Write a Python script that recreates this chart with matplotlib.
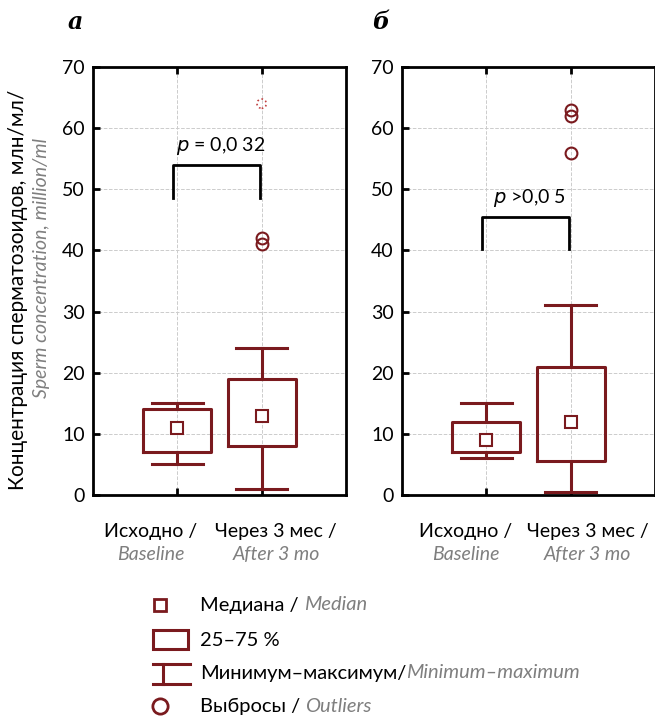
import numpy as np
import matplotlib
import matplotlib.pyplot as plt
from matplotlib.patches import Rectangle

matplotlib.rcParams.update({'font.size': 13, 'font.family': ['Lato', 'DejaVu Sans']})

RED = '#7a1a1e'
GRAY = '#7f7f7f'

# data: [panel a, panel b], each [Baseline, After 3 mo]
panels = ['а', 'б']
groups_ru = ['Исходно /', 'Через 3 мес /']
groups_en = ['Baseline', 'After 3 mo']
medians = [[11, 13], [9, 12]]
q1 = [[7, 8], [7, 5.5]]
q3 = [[14, 19], [12, 21]]
mins = [[5, 1], [6, 0.5]]
maxs = [[15, 24], [15, 31]]
outliers = [[[], [42, 41]], [[], [63, 62, 56]]]
extreme = [[[], [64]], [[], []]]
p_text = ['$p$ = 0,0 32', '$p$ >0,0 5']
bracket_top = [54, 45.5]
bracket_bottom = [48.5, 40.3]

fig = plt.figure(figsize=(6.55, 7.19), dpi=100)
lefts = [93 / 655, 402 / 655]
panel_x = [75 / 655, 381 / 655]
label_x = [[0.68, 2.17], [0.76, 2.2]]

for k in range(2):
    ax = fig.add_axes([lefts[k], 1 - 495 / 719, 253 / 655, 428 / 719])
    stats = []
    for i in range(2):
        stats.append({'med': medians[k][i], 'q1': q1[k][i], 'q3': q3[k][i],
                      'whislo': mins[k][i], 'whishi': maxs[k][i],
                      'mean': medians[k][i], 'fliers': outliers[k][i]})
    lp = dict(color=RED, lw=2.2)
    ax.bxp(stats, positions=[1, 2], widths=0.81, capwidths=0.6, showmeans=True,
           boxprops=lp, whiskerprops=lp, capprops=lp,
           medianprops=dict(visible=False),
           meanprops=dict(marker='s', markersize=8, markerfacecolor='white',
                          markeredgecolor=RED, markeredgewidth=1.5),
           flierprops=dict(marker='o', markersize=8.5, markerfacecolor='none',
                           markeredgecolor=RED, markeredgewidth=1.5))
    for i in range(2):
        if extreme[k][i]:
            ax.scatter([i + 1] * len(extreme[k][i]), extreme[k][i], s=45, marker='o',
                       facecolors='none', edgecolors='#c04040', linestyles=':', linewidths=1.2)
    # significance bracket
    x1, x2 = 0.95, 1.98
    ax.plot([x1, x1, x2, x2], [bracket_bottom[k], bracket_top[k], bracket_top[k], bracket_bottom[k]],
            color='black', lw=2)
    ax.text((x1 + x2) / 2 + 0.05, bracket_top[k] + 1.3, p_text[k], ha='center', va='bottom', fontsize=14)

    ax.set_xlim(0, 3)
    ax.set_ylim(0, 70)
    ax.set_yticks(range(0, 71, 10))
    ax.set_xticks([1, 2])
    ax.set_xticklabels(['', ''])
    ax.grid(True, color='#cccccc', ls='--', lw=0.7)
    ax.set_axisbelow(True)
    for s in ax.spines.values():
        s.set_linewidth(2)
    ax.tick_params(direction='in', width=2, length=5, top=True, labelsize=14, pad=6)
    for i in range(2):
        ax.text(label_x[k][i], -6.0, groups_ru[i], ha='center', va='center', fontsize=14)
        ax.text(label_x[k][i], -9.8, groups_en[i], ha='center', va='center', fontsize=14,
                style='italic', color=GRAY)
    fig.text(panel_x[k], 1 - 22 / 719, panels[k], fontsize=17, fontweight='bold', style='italic',
             family='DejaVu Serif', ha='center', va='center')

fig.text(18 / 655, 1 - 290 / 719, 'Концентрация сперматозоидов, млн/мл/', rotation=90,
         ha='center', va='center', fontsize=15)
fig.text(42 / 655, 1 - 268 / 719, 'Sperm concentration, million/ml', rotation=90,
         ha='center', va='center', fontsize=14, style='italic', color=GRAY)

# legend in pixel coordinates
lg = fig.add_axes([0, 0, 1, 1])
lg.set_xlim(0, 655)
lg.set_ylim(719, 0)
lg.axis('off')
lg.plot([160], [605], marker='s', markersize=8, markerfacecolor='white',
        markeredgecolor=RED, markeredgewidth=2)
lg.add_patch(Rectangle((153, 630), 35, 19, fill=False, edgecolor=RED, lw=2.2))
lg.plot([153, 190], [664, 664], color=RED, lw=2.2)
lg.plot([153, 190], [684, 684], color=RED, lw=2.2)
lg.plot([163, 163], [664, 684], color=RED, lw=2.2)
lg.plot([160], [706], marker='o', markersize=11, markerfacecolor='none',
        markeredgecolor=RED, markeredgewidth=2)
legend_ru = ['Медиана / ', '25–75 %', 'Минимум–максимум/', 'Выбросы / ']
legend_en = ['Median', '', 'Minimum–maximum', 'Outliers']
legend_y = [605, 640, 673, 706]
for t_ru, t_en, y in zip(legend_ru, legend_en, legend_y):
    t = lg.text(200, y, t_ru, ha='left', va='center', fontsize=14.5)
    if t_en:
        lg.annotate(t_en, xycoords=t, xy=(1, 0.5), va='center', ha='left',
                    fontsize=14.5, style='italic', color=GRAY)

fig.savefig('out.png', dpi=100)
